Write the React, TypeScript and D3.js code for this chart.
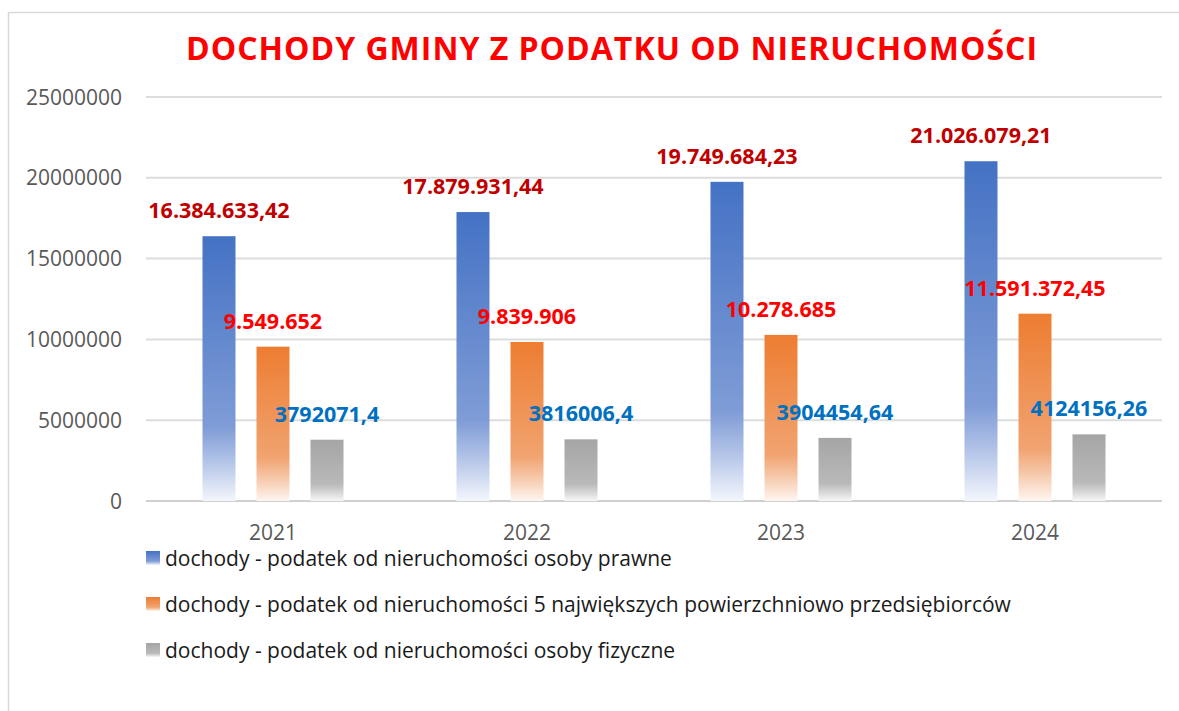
import React, { useEffect, useRef } from 'react';
import * as d3 from 'd3';

const years = ['2021', '2022', '2023', '2024'];
const osobyPrawne = [16384633.42, 17879931.44, 19749684.23, 21026079.21];
const najwieksiPrzedsiebiorcy = [9549652, 9839906, 10278685, 11591372.45];
const osobyFizyczne = [3792071.4, 3816006.4, 3904454.64, 4124156.26];
const yTicks = [0, 5000000, 10000000, 15000000, 20000000, 25000000];
const seriesNames = [
  'dochody - podatek od nieruchomości osoby prawne',
  'dochody - podatek od nieruchomości 5 największych powierzchniowo przedsiębiorców',
  'dochody - podatek od nieruchomości osoby fizyczne',
];

const pl = d3.formatLocale({ decimal: ',', thousands: '.', grouping: [3], currency: ['', ' zł'] });

const series = [
  { key: 'prawne', values: osobyPrawne, color: ['#4472C4', '#7F9CD6', '#AEC0E6', '#F3F6FC'], label: '#C00000', fmt: pl.format(',.2f') },
  { key: 'przeds', values: najwieksiPrzedsiebiorcy, color: ['#ED7D31', '#F1A370', '#F5C4A4', '#FEF6F1'], label: '#FF0000', fmt: pl.format(',.2~f') },
  { key: 'fiz', values: osobyFizyczne, color: ['#A5A5A5', '#B9B9B9', '#D2D2D2', '#F7F7F7'], label: '#0070C0', fmt: pl.format('.2~f') },
];

const FONT = '"Open Sans", sans-serif';

const App: React.FC = () => {
  const svgRef = useRef<SVGSVGElement>(null);

  useEffect(() => {
    if (!svgRef.current) return;
    const width = 1179;
    const height = 711;
    const margin = { top: 97, right: 17, bottom: 210, left: 146 };

    const svg = d3.select(svgRef.current)
      .attr('width', width)
      .attr('height', height);
    svg.selectAll('*').remove();

    const defs = svg.append('defs');
    series.forEach(s => {
      const g = defs.append('linearGradient')
        .attr('id', `grad-${s.key}`)
        .attr('x1', 0).attr('y1', 0).attr('x2', 0).attr('y2', 1);
      [0, 0.72, 0.84, 1].forEach((o, i) => {
        g.append('stop').attr('offset', o).attr('stop-color', s.color[i]);
      });
    });

    svg.append('rect').attr('width', width).attr('height', height).attr('fill', '#fff');

    // frame
    svg.append('path')
      .attr('d', `M8.5,${height} V12.5 H${width}`)
      .attr('fill', 'none')
      .attr('stroke', '#D9D9D9')
      .attr('stroke-width', 1.5);

    svg.append('text')
      .attr('x', 612)
      .attr('y', 60)
      .attr('text-anchor', 'middle')
      .attr('font-family', FONT)
      .attr('font-size', 32)
      .attr('font-weight', 700)
      .attr('letter-spacing', 1)
      .attr('fill', '#FF0000')
      .text('DOCHODY GMINY Z PODATKU OD NIERUCHOMOŚCI');

    const y = d3.scaleLinear()
      .domain([0, 25000000])
      .range([501, margin.top]);

    const x0 = d3.scaleBand<string>()
      .domain(years)
      .range([margin.left, width - margin.right])
      .paddingInner(0)
      .paddingOuter(0);

    const x1 = d3.scaleBand<string>()
      .domain(series.map(s => s.key))
      .range([0, x0.bandwidth()])
      .paddingInner(0.389)
      .paddingOuter(1.046);

    // gridlines
    svg.append('g')
      .selectAll('line')
      .data(yTicks)
      .enter()
      .append('line')
      .attr('x1', margin.left)
      .attr('x2', width - margin.right)
      .attr('y1', d => y(d))
      .attr('y2', d => y(d))
      .attr('stroke', d => d === 0 ? '#D0D0D0' : '#DDDDDD')
      .attr('stroke-width', 2);

    // y labels
    svg.append('g')
      .selectAll('text')
      .data(yTicks)
      .enter()
      .append('text')
      .attr('x', 122)
      .attr('y', d => y(d))
      .attr('dy', '0.36em')
      .attr('text-anchor', 'end')
      .attr('font-family', FONT)
      .attr('font-size', 21)
      .attr('fill', '#595959')
      .text(d => d3.format('d')(d));

    // x labels
    svg.append('g')
      .selectAll('text')
      .data(years)
      .enter()
      .append('text')
      .attr('x', d => (x0(d) as number) + x0.bandwidth() / 2)
      .attr('y', 540)
      .attr('text-anchor', 'middle')
      .attr('font-family', FONT)
      .attr('font-size', 21)
      .attr('fill', '#595959')
      .text(d => d);

    // bars
    series.forEach(s => {
      const g = svg.append('g');
      g.selectAll('rect')
        .data(years)
        .enter()
        .append('rect')
        .attr('x', d => (x0(d) as number) + (x1(s.key) as number))
        .attr('y', (d, i) => y(s.values[i]))
        .attr('width', x1.bandwidth())
        .attr('height', (d, i) => y(0) - y(s.values[i]))
        .attr('fill', `url(#grad-${s.key})`);
    });

    // value labels
    series.forEach(s => {
      svg.append('g')
        .selectAll('text')
        .data(years)
        .enter()
        .append('text')
        .attr('x', d => (x0(d) as number) + (x1(s.key) as number) + x1.bandwidth() / 2)
        .attr('y', (d, i) => y(s.values[i]) - 18)
        .attr('text-anchor', 'middle')
        .attr('font-family', FONT)
        .attr('font-size', 21.5)
        .attr('font-weight', 700)
        .attr('fill', s.label)
        .text((d, i) => s.fmt(s.values[i]));
    });

    // legend
    const legendY = [565, 611, 657];
    const legend = svg.append('g');
    series.forEach((s, i) => {
      legend.append('rect')
        .attr('x', 146)
        .attr('y', legendY[i] - 14)
        .attr('width', 14)
        .attr('height', 14)
        .attr('fill', `url(#grad-${s.key})`);
      legend.append('text')
        .attr('x', 165)
        .attr('y', legendY[i] + 1)
        .attr('font-family', FONT)
        .attr('font-size', 21)
        .attr('fill', '#1A1A1A')
        .text(seriesNames[i]);
    });
  }, []);

  return (
    <div style={{ position: 'absolute', left: 0, top: 0 }}>
      <svg ref={svgRef} style={{ display: 'block' }} />
    </div>
  );
};

export default App;
